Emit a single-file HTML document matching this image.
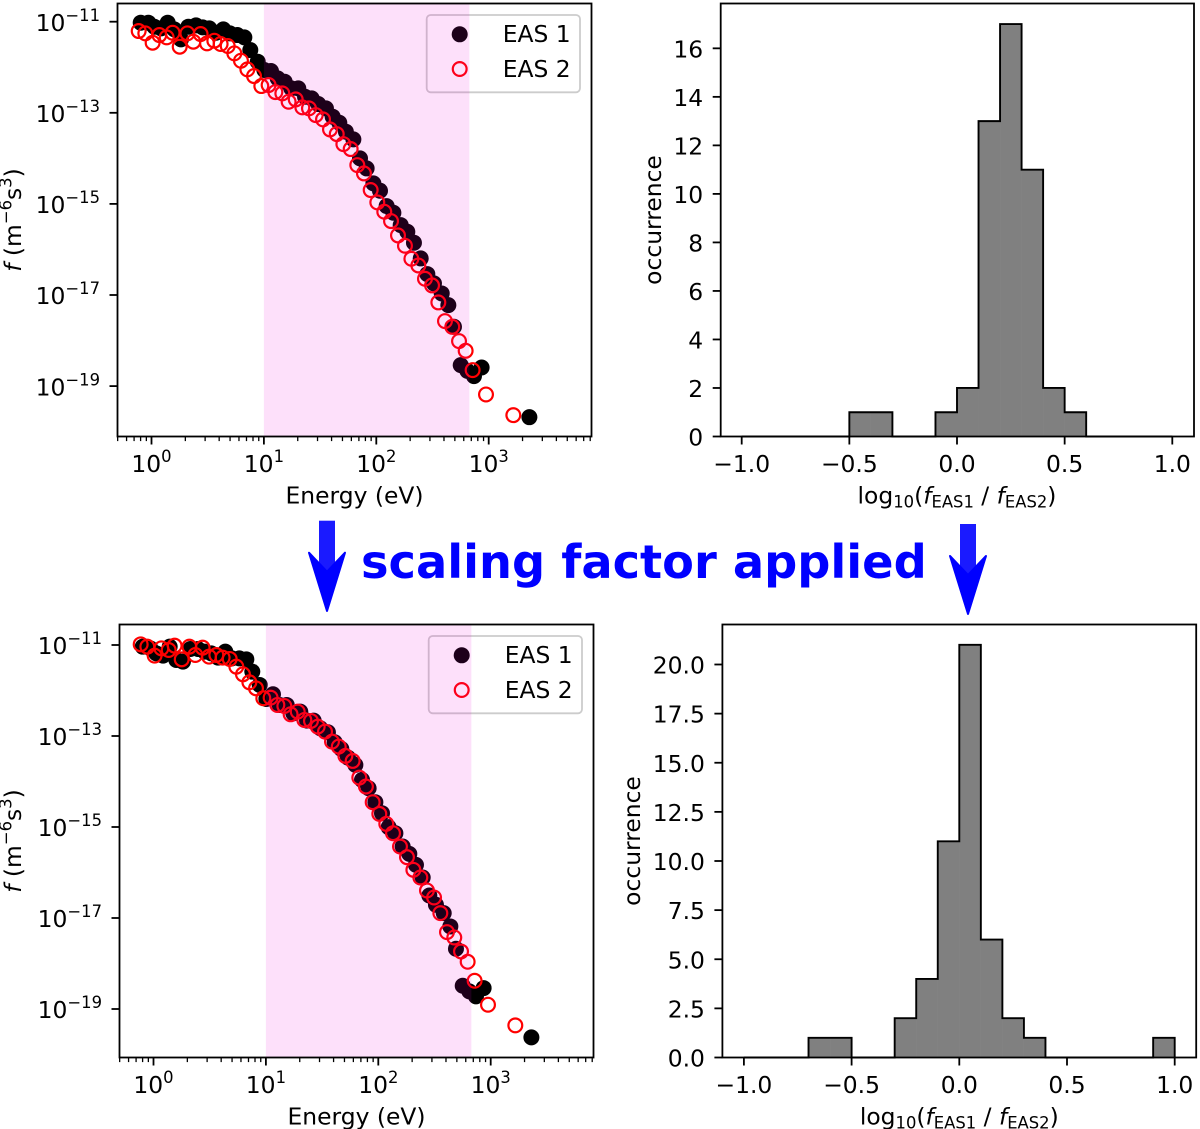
<!DOCTYPE html>
<html lang="en">
<head>
<meta charset="utf-8">
<title>EAS distribution comparison</title>
<style>
  html, body { margin: 0; padding: 0; background: #fff; }
  svg { display: block; font-family: "DejaVu Sans", "Liberation Sans", sans-serif; }
  text { fill: #000; }
</style>
</head>
<body>
<svg id="fig" xmlns="http://www.w3.org/2000/svg" width="1200" height="1129" viewBox="0 0 1200 1129">
  <rect x="0" y="0" width="1200" height="1129" fill="#fff"/>

  <g id="tl"></g>
  <g id="tr"></g>
  <g id="bl"></g>
  <g id="br"></g>

  <!-- axis titles -->
  <text x="354.5" y="503.5" font-size="23.4" text-anchor="middle">Energy (eV)</text>
  <text x="356.5" y="1124.5" font-size="23.4" text-anchor="middle">Energy (eV)</text>
  <text transform="translate(21,220) rotate(-90)" font-size="23.4" text-anchor="middle"><tspan font-style="italic">f</tspan> (m<tspan font-size="16.4" dy="-9.5">−6</tspan><tspan dy="9.5">s</tspan><tspan font-size="16.4" dy="-9.5">3</tspan><tspan dy="9.5">)</tspan></text>
  <text transform="translate(21,841) rotate(-90)" font-size="23.4" text-anchor="middle"><tspan font-style="italic">f</tspan> (m<tspan font-size="16.4" dy="-9.5">−6</tspan><tspan dy="9.5">s</tspan><tspan font-size="16.4" dy="-9.5">3</tspan><tspan dy="9.5">)</tspan></text>
  <text transform="translate(661,220) rotate(-90)" font-size="23.4" text-anchor="middle">occurrence</text>
  <text transform="translate(640,841) rotate(-90)" font-size="23.4" text-anchor="middle">occurrence</text>
  <text x="957" y="503.5" font-size="23.4" text-anchor="middle">log<tspan font-size="16.4" dy="4">10</tspan><tspan dy="-4">(</tspan><tspan font-style="italic">f</tspan><tspan font-size="16.4" dy="4">EAS1</tspan><tspan dy="-4"> / </tspan><tspan font-style="italic">f</tspan><tspan font-size="16.4" dy="4">EAS2</tspan><tspan dy="-4">)</tspan></text>
  <text x="959.3" y="1124.5" font-size="23.4" text-anchor="middle">log<tspan font-size="16.4" dy="4">10</tspan><tspan dy="-4">(</tspan><tspan font-style="italic">f</tspan><tspan font-size="16.4" dy="4">EAS1</tspan><tspan dy="-4"> / </tspan><tspan font-style="italic">f</tspan><tspan font-size="16.4" dy="4">EAS2</tspan><tspan dy="-4">)</tspan></text>

  <!-- annotation -->
  <text x="361" y="578" font-size="46.3" font-weight="bold" style="fill:#0000ff">scaling factor applied</text>
  <g>
    <rect x="319" y="520.7" width="16" height="52" fill="#1a1aff"/>
    <path d="M309,552.7 L327,571.7 L345,552.7 L327,611 Z" fill="#0000ff" stroke="#0000ff" stroke-width="2" stroke-linejoin="round"/>
  </g>
  <g>
    <rect x="960" y="524" width="16" height="52" fill="#1a1aff"/>
    <path d="M950,556 L968,575 L986,556 L968,614 Z" fill="#0000ff" stroke="#0000ff" stroke-width="2" stroke-linejoin="round"/>
  </g>
</svg>

<script>
// ---------- spectrum data (log10 of energy in eV, log10 of f) ----------
const logEnergyEas1 = [-0.096,-0.028,0.025,0.085,0.144,0.203,0.262,0.328,0.396,0.455,0.514,0.574,0.639,0.698,0.764,0.826,0.879,0.945,1.004,1.063,1.123,1.185,1.244,1.306,1.366,1.425,1.484,1.552,1.612,1.671,1.730,1.796,1.855,1.914,1.974,2.033,2.092,2.152,2.217,2.276,2.335,2.395,2.454,2.513,2.582,2.641,2.691,2.751,2.810,2.869,2.937,3.362];
const logEnergyEas2 = [-0.114,-0.055,0.010,0.070,0.135,0.188,0.251,0.319,0.372,0.437,0.494,0.559,0.615,0.678,0.737,0.796,0.853,0.912,0.977,1.042,1.102,1.164,1.220,1.283,1.342,1.401,1.461,1.526,1.588,1.648,1.707,1.772,1.831,1.890,1.950,2.009,2.071,2.131,2.193,2.255,2.312,2.374,2.433,2.496,2.552,2.611,2.676,2.736,2.795,2.857,2.976,3.219];

const logFluxEas1Before = [-11.022,-11.022,-11.110,-11.146,-11.022,-11.168,-11.388,-11.110,-11.081,-11.124,-11.146,-11.242,-11.168,-11.256,-11.293,-11.344,-11.622,-11.878,-12.061,-12.083,-12.245,-12.318,-12.464,-12.464,-12.647,-12.684,-12.808,-12.903,-13.086,-13.218,-13.416,-13.584,-14.001,-14.221,-14.550,-14.711,-15.048,-15.194,-15.465,-15.611,-15.853,-16.197,-16.541,-16.746,-16.966,-17.222,-17.698,-18.540,-18.664,-18.781,-18.591,-19.682];
const logFluxEas2Before = [-11.205,-11.256,-11.461,-11.293,-11.344,-11.242,-11.549,-11.256,-11.439,-11.271,-11.476,-11.417,-11.490,-11.534,-11.695,-11.857,-12.047,-12.193,-12.413,-12.391,-12.545,-12.574,-12.757,-12.706,-12.881,-12.903,-13.050,-13.145,-13.365,-13.467,-13.687,-13.796,-14.148,-14.331,-14.696,-14.967,-15.172,-15.377,-15.692,-15.919,-16.204,-16.351,-16.643,-16.790,-17.163,-17.573,-17.698,-18.012,-18.225,-18.649,-19.184,-19.638];

const logFluxEas1After = [-11.037,-11.073,-11.183,-11.234,-11.037,-11.329,-11.366,-11.088,-11.088,-11.146,-11.183,-11.278,-11.146,-11.293,-11.293,-11.315,-11.586,-11.878,-12.186,-12.083,-12.318,-12.318,-12.501,-12.464,-12.662,-12.662,-12.830,-12.918,-13.138,-13.284,-13.474,-13.635,-13.965,-14.148,-14.455,-14.697,-15.004,-15.136,-15.429,-15.590,-15.832,-16.110,-16.505,-16.710,-16.893,-17.186,-17.676,-18.489,-18.613,-18.723,-18.540,-19.624];
const logFluxEas2After = [-10.985,-11.037,-11.234,-11.073,-11.110,-11.015,-11.315,-11.037,-11.220,-11.059,-11.256,-11.220,-11.278,-11.307,-11.476,-11.644,-11.820,-11.952,-12.171,-12.157,-12.318,-12.340,-12.523,-12.464,-12.647,-12.669,-12.794,-12.903,-13.123,-13.233,-13.438,-13.548,-13.914,-14.111,-14.455,-14.712,-14.931,-15.136,-15.429,-15.663,-15.941,-16.110,-16.395,-16.549,-16.893,-17.310,-17.428,-17.735,-17.962,-18.379,-18.906,-19.360];

const logEnergyTicks = [0,1,2,3];
const logEnergyTickLabels = ["0","1","2","3"];
const logFluxTicks = [-11,-13,-15,-17,-19];
const logFluxTickLabels = ["−11","−13","−15","−17","−19"];
const shadedBandLogEnergy = [1.0, 2.828];

// ---------- histogram data ----------
const histBinEdges = [-1.0,-0.9,-0.8,-0.7,-0.6,-0.5,-0.4,-0.3,-0.2,-0.1,0.0,0.1,0.2,0.3,0.4,0.5,0.6,0.7,0.8,0.9,1.0];
const histCountsBefore = [0,0,0,0,0,1,1,0,0,1,2,13,17,11,2,1,0,0,0,0];
const histCountsAfter  = [0,0,0,1,1,0,0,2,4,11,21,6,2,1,0,0,0,0,0,1];
const histXTicks = [-1.0,-0.5,0.0,0.5,1.0];
const histXTickLabels = ["−1.0","−0.5","0.0","0.5","1.0"];
const histYTicksBefore = [0,2,4,6,8,10,12,14,16];
const histYTickLabelsBefore = ["0","2","4","6","8","10","12","14","16"];
const histYTicksAfter = [0,2.5,5,7.5,10,12.5,15,17.5,20];
const histYTickLabelsAfter = ["0.0","2.5","5.0","7.5","10.0","12.5","15.0","17.5","20.0"];

// ---------- drawing helpers ----------
const NS = "http://www.w3.org/2000/svg";
const FONT = 23.4;
function mk(parent, tag, attrs) {
  const el = document.createElementNS(NS, tag);
  for (const k in attrs) el.setAttribute(k, attrs[k]);
  parent.appendChild(el);
  return el;
}
function tick(parent, x1, y1, x2, y2, w) {
  const t = mk(parent, "line", {x1: x1, y1: y1, x2: x2, y2: y2, stroke: "#000", "stroke-width": w});
  
  
}
function spines(parent, box) {
  const s = mk(parent, "rect", {x: box.l, y: box.t, width: box.r - box.l, height: box.b - box.t, fill: "none", stroke: "#000", "stroke-width": 1.8});
  
  
}

function spectrumPanel(root, box, x0, xDec, y11, yDec, logE1, logF1, logE2, logF2) {
  const xScale = v => x0 + xDec * v;
  const yScale = v => y11 + (-11 - v) * yDec;

  for (let i = 0; i < logE1.length; i++) {
    const c = mk(root, "circle", {cx: xScale(logE1[i]), cy: yScale(logF1[i]), r: 8, fill: "#000"});
    
    
  }
  for (let i = 0; i < logE2.length; i++) {
    const c = mk(root, "circle", {cx: xScale(logE2[i]), cy: yScale(logF2[i]), r: 6.9, fill: "none", stroke: "#ff0000", "stroke-width": 2.2});
    
    
  }

  // legend
  const lx = box.l + 309.2, ly = box.t + 11.5;
  const lg = mk(root, "g", {});
  
  
  mk(lg, "rect", {x: lx, y: ly, width: 153.3, height: 77.3, rx: 4, fill: "#fff", "fill-opacity": 0.8, stroke: "#cccccc", "stroke-width": 1.8});
  const m1 = mk(lg, "circle", {cx: lx + 33, cy: ly + 19.3, r: 8, fill: "#000"});
  
  
  const m2 = mk(lg, "circle", {cx: lx + 33, cy: ly + 54, r: 6.9, fill: "none", stroke: "#ff0000", "stroke-width": 2.2});
  
  
  const t1 = mk(lg, "text", {x: lx + 76, y: ly + 27, "font-size": FONT});
  t1.textContent = "EAS 1";
  
  
  const t2 = mk(lg, "text", {x: lx + 76, y: ly + 62, "font-size": FONT});
  t2.textContent = "EAS 2";
  
  

  // shaded band lies over the markers and the legend
  const band = mk(root, "rect", {x: xScale(shadedBandLogEnergy[0]), y: box.t, width: xScale(shadedBandLogEnergy[1]) - xScale(shadedBandLogEnergy[0]), height: box.b - box.t, fill: "#ee00d5", "fill-opacity": 0.12});
  
  

  // x ticks
  for (let d = -1; d <= 4; d++) {
    for (let k = 2; k <= 9; k++) {
      const px = xScale(d + Math.log10(k));
      if (px > box.l && px < box.r) tick(root, px, box.b, px, box.b + 4.6, 1.3);
    }
  }
  logEnergyTicks.forEach((v, i) => {
    const px = xScale(v);
    tick(root, px, box.b, px, box.b + 8, 1.8);
    const t = mk(root, "text", {x: px, y: box.b + 35.3, "font-size": FONT, "text-anchor": "middle"});
    
    
    t.appendChild(document.createTextNode("10"));
    const s = mk(t, "tspan", {"font-size": 16.4, dy: -10});
    s.textContent = logEnergyTickLabels[i];
  });
  // y ticks
  logFluxTicks.forEach((v, i) => {
    const py = yScale(v);
    tick(root, box.l - 8, py, box.l, py, 1.8);
    const t = mk(root, "text", {x: box.l - 17.5, y: py + 9.2, "font-size": FONT, "text-anchor": "end"});
    
    
    t.appendChild(document.createTextNode("10"));
    const s = mk(t, "tspan", {"font-size": 16.4, dy: -10});
    s.textContent = logFluxTickLabels[i];
  });
  spines(root, box);
}

function histPanel(root, box, x0, xUnit, y0, yUnit, counts, xTicks, xLabels, yTicks, yLabels) {
  const xScale = v => x0 + xUnit * v;
  const yScale = v => y0 - yUnit * v;

  let d = "M" + xScale(histBinEdges[0]) + "," + yScale(0);
  counts.forEach((c, i) => {
    if (c > 0) {
      const bar = mk(root, "rect", {x: xScale(histBinEdges[i]), y: yScale(c), width: xScale(histBinEdges[i + 1]) - xScale(histBinEdges[i]), height: yScale(0) - yScale(c), fill: "#808080", stroke: "#808080", "stroke-width": 0.3});
      
      
    }
    d += " L" + xScale(histBinEdges[i]) + "," + yScale(c) + " L" + xScale(histBinEdges[i + 1]) + "," + yScale(c);
  });
  d += " L" + xScale(histBinEdges[histBinEdges.length - 1]) + "," + yScale(0);
  const outline = mk(root, "path", {d: d, fill: "none", stroke: "#000", "stroke-width": 1.9, "stroke-linejoin": "miter"});
  
  

  xTicks.forEach((v, i) => {
    const px = xScale(v);
    tick(root, px, box.b, px, box.b + 8, 1.8);
    const t = mk(root, "text", {x: px, y: box.b + 35.3, "font-size": FONT, "text-anchor": "middle"});
    t.textContent = xLabels[i];
    
    
  });
  yTicks.forEach((v, i) => {
    const py = yScale(v);
    tick(root, box.l - 8, py, box.l, py, 1.8);
    const t = mk(root, "text", {x: box.l - 17.5, y: py + 9, "font-size": FONT, "text-anchor": "end"});
    t.textContent = yLabels[i];
    
    
  });
  spines(root, box);
}

spectrumPanel(document.getElementById("tl"), {l: 117.5, r: 591.5, t: 3.5, b: 436.5}, 151.5, 112.4, 21.7, 45.55,
  logEnergyEas1, logFluxEas1Before, logEnergyEas2, logFluxEas2Before);
spectrumPanel(document.getElementById("bl"), {l: 119.5, r: 593.5, t: 624.5, b: 1057.5}, 153.5, 112.4, 645, 45.5,
  logEnergyEas1, logFluxEas1After, logEnergyEas2, logFluxEas2After);
histPanel(document.getElementById("tr"), {l: 720.7, r: 1194, t: 3.5, b: 436.5}, 957, 215.3, 436.5, 24.26,
  histCountsBefore, histXTicks, histXTickLabels, histYTicksBefore, histYTickLabelsBefore);
histPanel(document.getElementById("br"), {l: 722.4, r: 1196.2, t: 624.5, b: 1057.5}, 959.3, 215.4, 1057.5, 19.65,
  histCountsAfter, histXTicks, histXTickLabels, histYTicksAfter, histYTickLabelsAfter);
</script>
</body>
</html>
